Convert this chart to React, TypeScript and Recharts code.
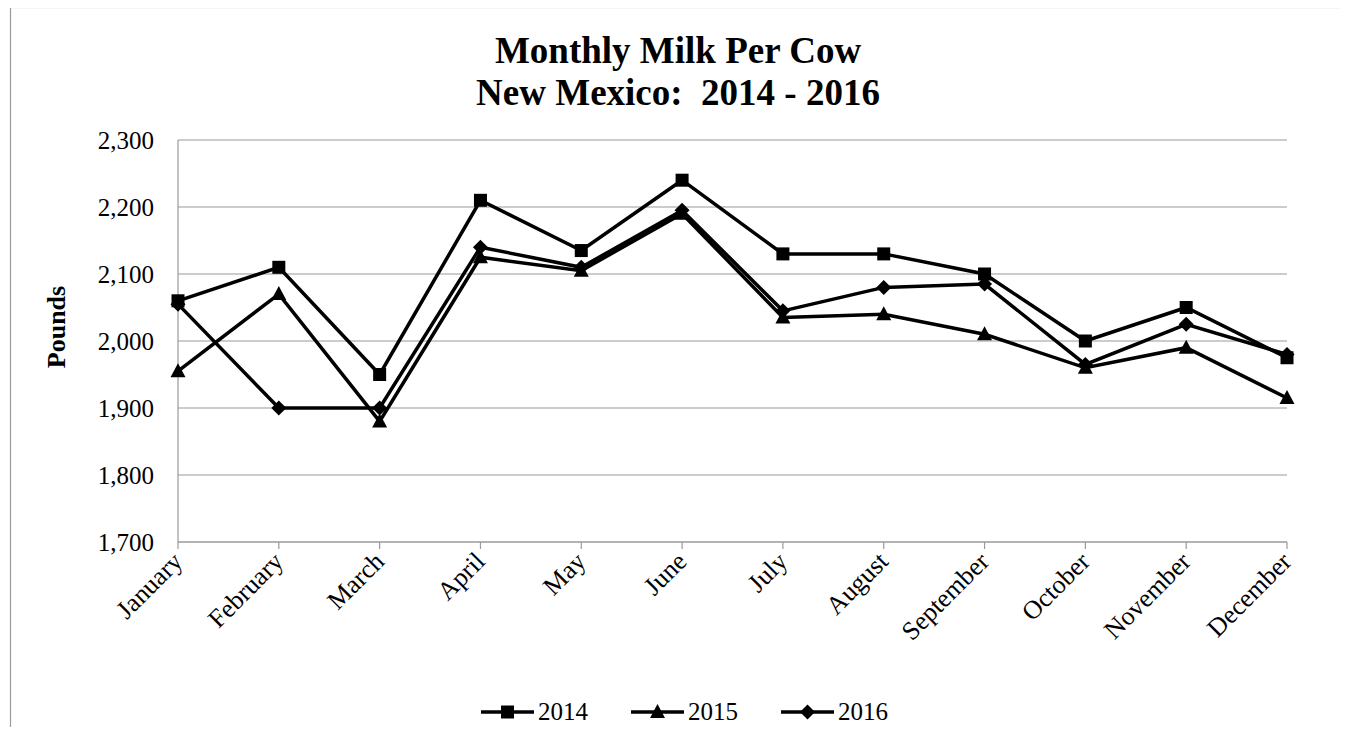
import React from 'react';
import {
  LineChart,
  Line,
  XAxis,
  YAxis,
  CartesianGrid,
  Legend,
} from 'recharts';

const months = [
  'January',
  'February',
  'March',
  'April',
  'May',
  'June',
  'July',
  'August',
  'September',
  'October',
  'November',
  'December',
];

const milk2014 = [2060, 2110, 1950, 2210, 2135, 2240, 2130, 2130, 2100, 2000, 2050, 1975];
const milk2015 = [1955, 2070, 1880, 2125, 2105, 2190, 2035, 2040, 2010, 1960, 1990, 1915];
const milk2016 = [2055, 1900, 1900, 2140, 2110, 2195, 2045, 2080, 2085, 1965, 2025, 1980];

const yTicks = [1700, 1800, 1900, 2000, 2100, 2200, 2300];

const series = [
  { key: 'y2014', name: '2014', marker: 'square' },
  { key: 'y2015', name: '2015', marker: 'triangle' },
  { key: 'y2016', name: '2016', marker: 'diamond' },
];

const data = months.map((m, i) => ({
  month: m,
  y2014: milk2014[i],
  y2015: milk2015[i],
  y2016: milk2016[i],
}));

const FONT = '"Liberation Serif", "Times New Roman", serif';
const GRID = '#9a9a9a';

const Marker = ({ type, cx, cy }: { type: string; cx: number; cy: number }) => {
  if (type === 'square') {
    return <rect x={cx - 6.5} y={cy - 6.5} width={13} height={13} fill="#000" />;
  }
  if (type === 'triangle') {
    return (
      <polygon
        points={`${cx},${cy - 8} ${cx + 7.5},${cy + 6} ${cx - 7.5},${cy + 6}`}
        fill="#000"
      />
    );
  }
  return (
    <polygon
      points={`${cx},${cy - 7.5} ${cx + 7.5},${cy} ${cx},${cy + 7.5} ${cx - 7.5},${cy}`}
      fill="#000"
    />
  );
};

const makeDot = (type: string) => (props: any) => {
  const { cx, cy, index } = props;
  if (cx == null || cy == null) return <g key={index} />;
  return <Marker key={index} type={type} cx={cx} cy={cy} />;
};

// month names are turned 45 degrees, ending at the tick
const MonthTick = (props: any) => {
  const { x, y, payload } = props;
  const ax = x + 6;
  const ay = y + 12;
  return (
    <text
      x={ax}
      y={ay}
      textAnchor="end"
      transform={`rotate(-45 ${ax} ${ay})`}
      fontFamily={FONT}
      fontSize={26}
      fill="#000"
    >
      {payload.value}
    </text>
  );
};

const LegendContent = () => (
  <div style={{ display: 'flex', alignItems: 'center', fontFamily: FONT, fontSize: 25 }}>
    {series.map((s) => (
      <div key={s.key} style={{ display: 'flex', alignItems: 'center', marginRight: 43 }}>
        <svg width={53} height={20}>
          <line x1={0} y1={10} x2={53} y2={10} stroke="#000" strokeWidth={3.5} />
          <Marker type={s.marker} cx={26.5} cy={10} />
        </svg>
        <span style={{ marginLeft: 4, lineHeight: '28px' }}>{s.name}</span>
      </div>
    ))}
  </div>
);

const PoundsLabel = (props: any) => {
  const { viewBox } = props;
  const cx = viewBox.x + 56;
  const cy = viewBox.y + viewBox.height / 2 - 14;
  return (
    <text
      x={cx}
      y={cy}
      transform={`rotate(-90 ${cx} ${cy})`}
      textAnchor="middle"
      dominantBaseline="central"
      fontFamily={FONT}
      fontWeight="bold"
      fontSize={26}
      fill="#000"
    >
      Pounds
    </text>
  );
};

export default function App() {
  return (
    <div
      style={{
        position: 'relative',
        width: 1349,
        height: 735,
        margin: -8,
        overflow: 'hidden',
        background: '#fff',
      }}
    >
      <LineChart
        width={1349}
        height={735}
        data={data}
        margin={{ top: 140, right: 62, bottom: 0, left: 0 }}
      >
        <CartesianGrid vertical={false} stroke={GRID} strokeWidth={1.2} />
        <XAxis
          dataKey="month"
          height={193}
          interval={0}
          axisLine={{ stroke: GRID, strokeWidth: 1.2 }}
          tickLine={{ stroke: GRID, strokeWidth: 1.2 }}
          tickSize={7}
          tick={<MonthTick />}
        />
        <YAxis
          width={178}
          domain={[1700, 2300]}
          ticks={yTicks}
          interval={0}
          axisLine={{ stroke: GRID, strokeWidth: 1.2 }}
          tickLine={false}
          tickSize={0}
          tickMargin={24}
          tickFormatter={(v: number) => v.toLocaleString('en-US')}
          tick={{ fontFamily: FONT, fontSize: 25, fill: '#000' }}
          label={<PoundsLabel />}
        />
        <Legend
          verticalAlign="middle"
          align="center"
          content={<LegendContent />}
          wrapperStyle={{ top: 698, left: 481, width: 'auto' }}
        />
        {series.map((s) => (
          <Line
            key={s.key}
            type="linear"
            dataKey={s.key}
            name={s.name}
            stroke="#000"
            strokeWidth={3.5}
            dot={makeDot(s.marker)}
            activeDot={false}
            isAnimationActive={false}
          />
        ))}
      </LineChart>
      <svg
        width={1349}
        height={735}
        style={{ position: 'absolute', left: 0, top: 0, pointerEvents: 'none' }}
      >
        <rect x={10.5} y={7.5} width={1336} height={800} fill="none" stroke={GRID} strokeWidth={1.2} />
        <text
          x={678}
          y={63}
          textAnchor="middle"
          fontFamily={FONT}
          fontWeight="bold"
          fontSize={37}
          fill="#000"
        >
          Monthly Milk Per Cow
        </text>
        <text
          x={678}
          y={105}
          textAnchor="middle"
          fontFamily={FONT}
          fontWeight="bold"
          fontSize={37}
          fill="#000"
          style={{ whiteSpace: 'pre' }}
        >
          {'New Mexico:  2014 - 2016'}
        </text>
      </svg>
    </div>
  );
}
